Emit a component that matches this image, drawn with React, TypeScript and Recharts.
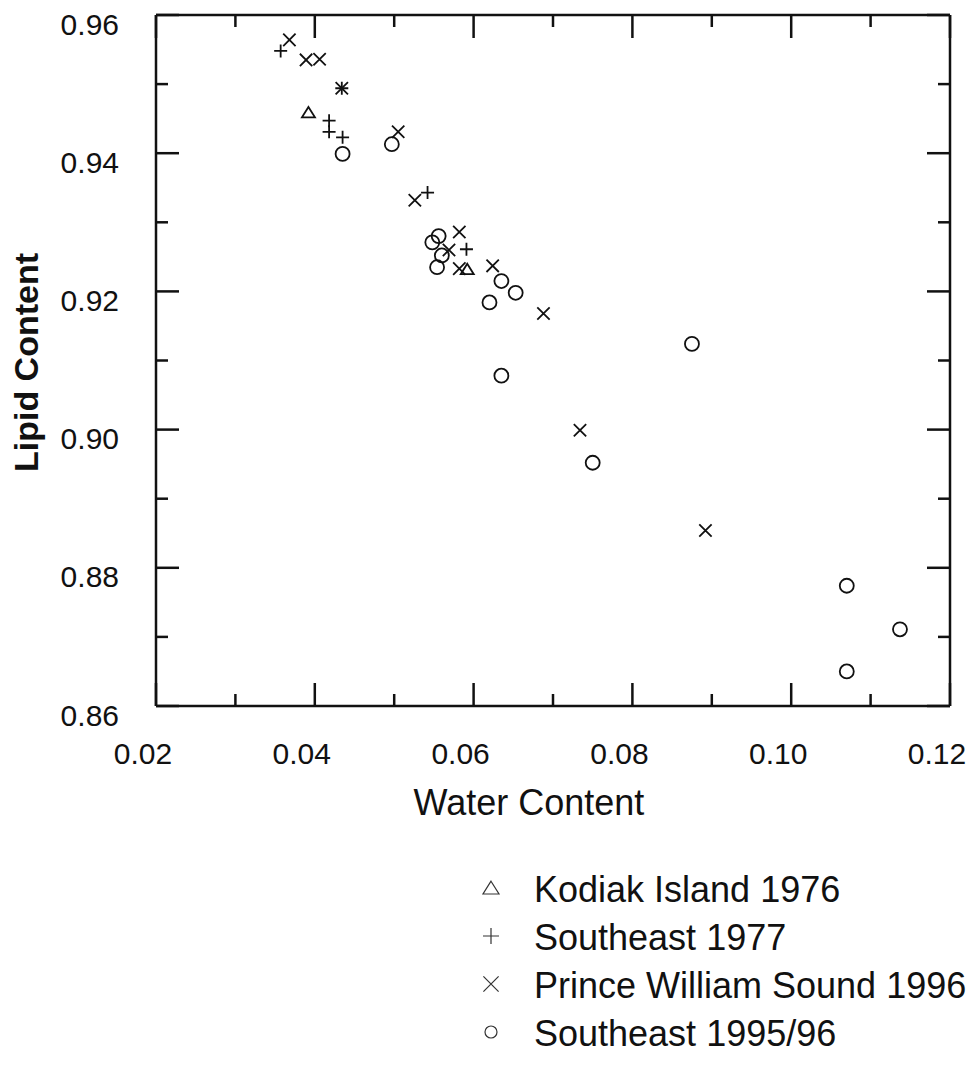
import { Legend, Scatter, ScatterChart, XAxis, YAxis } from 'recharts'

const FONT = '"Liberation Sans", Arial, sans-serif'
const INK = '#111'

// water content vs lipid content, per sample group
const kodiak1976 = [
  { water: 0.0392, lipid: 0.9459 },
  { water: 0.0592, lipid: 0.9232 },
]

const southeast1977 = [
  { water: 0.0357, lipid: 0.9548 },
  { water: 0.0434, lipid: 0.9494 },
  { water: 0.0418, lipid: 0.9447 },
  { water: 0.0418, lipid: 0.9431 },
  { water: 0.0435, lipid: 0.9423 },
  { water: 0.0542, lipid: 0.9343 },
  { water: 0.0591, lipid: 0.9261 },
]

const pws1996 = [
  { water: 0.0368, lipid: 0.9564 },
  { water: 0.0389, lipid: 0.9535 },
  { water: 0.0406, lipid: 0.9536 },
  { water: 0.0434, lipid: 0.9494 },
  { water: 0.0505, lipid: 0.9431 },
  { water: 0.0526, lipid: 0.9332 },
  { water: 0.0582, lipid: 0.9286 },
  { water: 0.0569, lipid: 0.926 },
  { water: 0.0582, lipid: 0.9233 },
  { water: 0.0624, lipid: 0.9237 },
  { water: 0.0688, lipid: 0.9168 },
  { water: 0.0734, lipid: 0.8999 },
  { water: 0.0892, lipid: 0.8854 },
]

const southeast1995 = [
  { water: 0.0435, lipid: 0.9399 },
  { water: 0.0497, lipid: 0.9413 },
  { water: 0.0556, lipid: 0.928 },
  { water: 0.0548, lipid: 0.9271 },
  { water: 0.056, lipid: 0.9252 },
  { water: 0.0554, lipid: 0.9235 },
  { water: 0.0635, lipid: 0.9215 },
  { water: 0.0653, lipid: 0.9198 },
  { water: 0.062, lipid: 0.9184 },
  { water: 0.0875, lipid: 0.9124 },
  { water: 0.0635, lipid: 0.9078 },
  { water: 0.075, lipid: 0.8952 },
  { water: 0.107, lipid: 0.8774 },
  { water: 0.1137, lipid: 0.8711 },
  { water: 0.107, lipid: 0.865 },
]

const xTicks = [0.02, 0.03, 0.04, 0.05, 0.06, 0.07, 0.08, 0.09, 0.1, 0.11, 0.12]
const yTicks = [0.86, 0.87, 0.88, 0.89, 0.9, 0.91, 0.92, 0.93, 0.94, 0.95, 0.96]

type Kind = 'triangle' | 'plus' | 'cross' | 'circle'

const groups: { name: string; kind: Kind; data: { water: number; lipid: number }[] }[] = [
  { name: 'Kodiak Island 1976', kind: 'triangle', data: kodiak1976 },
  { name: 'Southeast 1977', kind: 'plus', data: southeast1977 },
  { name: 'Prince William Sound 1996', kind: 'cross', data: pws1996 },
  { name: 'Southeast 1995/96', kind: 'circle', data: southeast1995 },
]

const MAJOR = 23
const MINOR = 12

const isMajor = (v: number) => Math.round(v * 100) % 2 === 0

function Marker({ kind, cx, cy, r, color, sw }: { kind: Kind; cx: number; cy: number; r: number; color: string; sw: number }) {
  const common = { stroke: color, strokeWidth: sw, fill: 'none' }
  if (kind === 'circle') return <circle cx={cx} cy={cy} r={r} {...common} />
  if (kind === 'plus')
    return <path d={`M${cx - r},${cy}H${cx + r}M${cx},${cy - r}V${cy + r}`} {...common} />
  if (kind === 'cross') {
    const d = r * 0.95
    return <path d={`M${cx - d},${cy - d}L${cx + d},${cy + d}M${cx - d},${cy + d}L${cx + d},${cy - d}`} {...common} />
  }
  return (
    <path d={`M${cx},${cy - r * 0.85}L${cx + r},${cy + r * 0.75}L${cx - r},${cy + r * 0.75}Z`} {...common} />
  )
}

const shapeFor = (kind: Kind) => (p: any) => (
  <Marker kind={kind} cx={p.cx} cy={p.cy} r={kind === 'circle' ? 7 : 6.5} color={INK} sw={1.8} />
)

function BottomTick({ x, y, payload }: any) {
  const v = payload.value as number
  const len = isMajor(v) ? MAJOR : MINOR
  return (
    <g>
      <line x1={x} y1={y} x2={x} y2={y - len} stroke={INK} strokeWidth={2.5} />
      {isMajor(v) && (
        <text x={x - 13} y={y + 58} textAnchor="middle" fontSize={30} fontFamily={FONT} fill={INK}>
          {v.toFixed(2)}
        </text>
      )}
    </g>
  )
}

function TopTick({ x, y, payload }: any) {
  const len = isMajor(payload.value) ? MAJOR : MINOR
  return <line x1={x} y1={y} x2={x} y2={y + len} stroke={INK} strokeWidth={2.5} />
}

function LeftTick({ x, y, payload }: any) {
  const v = payload.value as number
  const len = isMajor(v) ? MAJOR : MINOR
  return (
    <g>
      <line x1={x} y1={y} x2={x + len} y2={y} stroke={INK} strokeWidth={2.5} />
      {isMajor(v) && (
        <text x={x - 37} y={y + 9} textAnchor="end" dominantBaseline="central" fontSize={30} fontFamily={FONT} fill={INK}>
          {v.toFixed(2)}
        </text>
      )}
    </g>
  )
}

function RightTick({ x, y, payload }: any) {
  const len = isMajor(payload.value) ? MAJOR : MINOR
  return <line x1={x} y1={y} x2={x - len} y2={y} stroke={INK} strokeWidth={2.5} />
}

function LegendBox() {
  return (
    <div style={{ fontFamily: FONT, fontSize: 36, color: INK }}>
      {groups.map((g) => (
        <div key={g.name} style={{ display: 'flex', alignItems: 'center', height: 48 }}>
          <svg width={42} height={48} style={{ flex: 'none' }}>
            <Marker kind={g.kind} cx={21} cy={22} r={g.kind === 'circle' ? 6 : 8} color="#333" sw={1.2} />
          </svg>
          <span style={{ marginLeft: 22, whiteSpace: 'nowrap' }}>{g.name}</span>
        </div>
      ))}
    </div>
  )
}

const axisLine = { stroke: INK, strokeWidth: 2.5 }

export default function App() {
  return (
    <div style={{ margin: -8, width: 976, height: 1076, background: '#fff' }}>
      <ScatterChart width={976} height={1076} margin={{ top: 14, right: 25, bottom: 369, left: 155 }}>
        <XAxis
          xAxisId="bottom"
          type="number"
          dataKey="water"
          domain={[0.02, 0.12]}
          ticks={xTicks}
          interval={0}
          height={1}
          tickSize={0}
          tickMargin={0}
          tick={<BottomTick />}
          axisLine={axisLine}
          allowDataOverflow
          label={{
            content: ({ viewBox }: any) => (
              <text
                x={viewBox.x + viewBox.width / 2 - 24}
                y={viewBox.y + 109}
                textAnchor="middle"
                fontSize={36}
                fontFamily={FONT}
                fill={INK}
              >
                Water Content
              </text>
            ),
          }}
        />
        <XAxis
          xAxisId="top"
          orientation="top"
          type="number"
          dataKey="water"
          domain={[0.02, 0.12]}
          ticks={xTicks}
          interval={0}
          height={1}
          tickSize={0}
          tickMargin={0}
          tick={<TopTick />}
          axisLine={axisLine}
          allowDataOverflow
        />
        <YAxis
          yAxisId="left"
          type="number"
          dataKey="lipid"
          domain={[0.86, 0.96]}
          ticks={yTicks}
          interval={0}
          width={1}
          tickSize={0}
          tickMargin={0}
          tick={<LeftTick />}
          axisLine={axisLine}
          allowDataOverflow
          label={{
            content: ({ viewBox }: any) => {
              const cx = viewBox.x + viewBox.width - 130
              const cy = viewBox.y + viewBox.height / 2 + 2
              return (
                <text
                  x={cx}
                  y={cy}
                  transform={`rotate(-90 ${cx} ${cy})`}
                  textAnchor="middle"
                  dominantBaseline="central"
                  fontSize={34}
                  fontWeight="bold"
                  fontFamily={FONT}
                  fill={INK}
                >
                  Lipid Content
                </text>
              )
            },
          }}
        />
        <YAxis
          yAxisId="right"
          orientation="right"
          type="number"
          dataKey="lipid"
          domain={[0.86, 0.96]}
          ticks={yTicks}
          interval={0}
          width={1}
          tickSize={0}
          tickMargin={0}
          tick={<RightTick />}
          axisLine={axisLine}
          allowDataOverflow
        />
        {groups.map((g) => (
          <Scatter
            key={g.name}
            name={g.name}
            data={g.data}
            xAxisId="bottom"
            yAxisId="left"
            shape={shapeFor(g.kind)}
            isAnimationActive={false}
          />
        ))}
        <Legend
          layout="vertical"
          align="center"
          verticalAlign="middle"
          content={<LegendBox />}
          wrapperStyle={{ position: 'absolute', left: 470, top: 866, width: 'auto' }}
        />
      </ScatterChart>
    </div>
  )
}
